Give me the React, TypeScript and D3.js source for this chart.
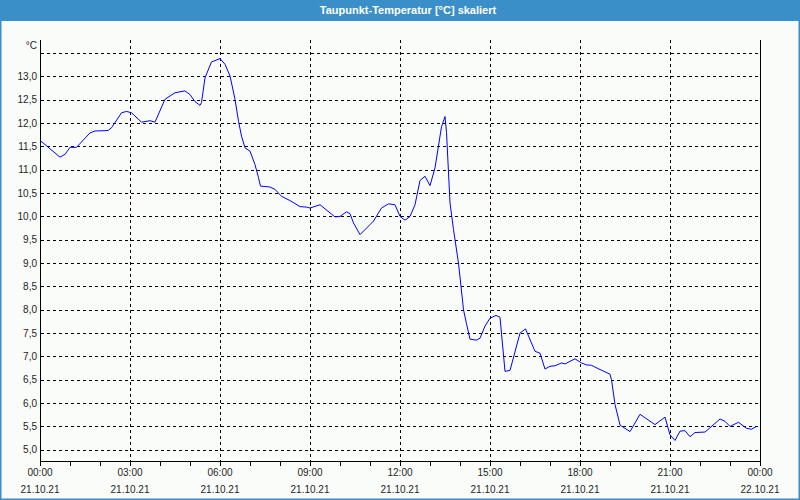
import React from "react";
import * as d3 from "d3";

const TITLE = "Taupunkt-Temperatur [°C] skaliert";
const UNIT = "°C";

const times = [
  "00:00","00:20","00:40","00:50","01:00","01:13","01:40","01:50","02:16","02:23",
  "02:43","02:53","03:03","03:23","03:40","03:50","04:10","04:30","04:50","05:00",
  "05:10","05:20","05:23","05:30","05:43","06:00","06:10","06:20","06:30","06:37",
  "06:43","06:50","07:00","07:10","07:17","07:21","07:40","07:50","08:03","08:20",
  "08:40","08:53","09:00","09:20","09:50","10:00","10:13","10:20","10:27","10:40",
  "11:07","11:23","11:37","11:50","12:00","12:10","12:20","12:30","12:40","12:50",
  "13:00","13:10","13:23","13:30","13:33","13:40","13:47","13:57","14:07","14:13",
  "14:20","14:33","14:40","14:50","15:00","15:12","15:20","15:30","15:40","16:00",
  "16:11","16:30","16:40","16:50","17:00","17:10","17:23","17:30","17:50","18:03",
  "18:13","18:23","18:40","19:00","19:03","19:10","19:20","19:40","20:00","20:30",
  "20:50","21:00","21:10","21:20","21:30","21:40","21:50","22:10","22:40","22:50",
  "23:00","23:17","23:33","23:43","23:53",
];

const dewPoint = [
  11.63,11.45,11.27,11.33,11.48,11.48,11.79,11.83,11.84,11.90,
  12.22,12.25,12.22,12.02,12.05,12.02,12.51,12.65,12.69,12.61,
  12.46,12.38,12.44,12.97,13.31,13.38,13.26,13.01,12.51,12.04,
  11.72,11.47,11.40,11.11,10.83,10.65,10.63,10.58,10.43,10.34,
  10.21,10.20,10.18,10.25,9.99,10.00,10.10,10.06,9.86,9.61,
  9.90,10.18,10.27,10.25,10.00,9.92,10.00,10.25,10.77,10.86,
  10.66,11.04,11.92,12.14,11.80,10.29,9.72,9.00,8.00,7.70,
  7.37,7.35,7.39,7.65,7.82,7.88,7.84,6.68,6.70,7.50,
  7.59,7.11,7.07,6.73,6.79,6.80,6.86,6.84,6.95,6.86,
  6.82,6.81,6.72,6.62,6.50,5.97,5.53,5.39,5.76,5.54,
  5.70,5.32,5.20,5.40,5.41,5.28,5.37,5.38,5.66,5.61,
  5.50,5.59,5.46,5.44,5.50,
];

const yTicks = [5.0, 5.5, 6.0, 6.5, 7.0, 7.5, 8.0, 8.5, 9.0, 9.5, 10.0, 10.5, 11.0, 11.5, 12.0, 12.5, 13.0];
const yGrid = [5.0, 5.5, 6.0, 6.5, 7.0, 7.5, 8.0, 8.5, 9.0, 9.5, 10.0, 10.5, 11.0, 11.5, 12.0, 12.5, 13.0, 13.5];
const xLabelTimes = ["2021-10-21 00:00","2021-10-21 03:00","2021-10-21 06:00","2021-10-21 09:00","2021-10-21 12:00","2021-10-21 15:00","2021-10-21 18:00","2021-10-21 21:00","2021-10-22 00:00"];
const yDomain = [4.76, 13.78];
const xDomain = ["2021-10-21 00:00", "2021-10-22 00:00"];
const DAY = "2021-10-21";

const parse = d3.timeParse("%Y-%m-%d %H:%M");
const fmtTime = d3.timeFormat("%H:%M");
const fmtDate = d3.timeFormat("%d.%m.%y");

export default function App() {
  const W = 800, H = 500;
  const left = 40, right = 760, top = 40, bottom = 461;
  const x = d3.scaleTime().domain(xDomain.map((s) => parse(s) as Date)).range([left, right]);
  const y = d3.scaleLinear().domain(yDomain).range([bottom, top]);

  const data = times.map((t, i) => ({ t: parse(`${DAY} ${t}`) as Date, v: dewPoint[i] }));
  const line = d3.line<{ t: Date; v: number }>().x((d) => x(d.t)).y((d) => y(d.v));

  const hourTicks = x.ticks(d3.timeHour.every(1) as any);
  const labelDates = xLabelTimes.map((s) => parse(s) as Date);
  const vGrid = labelDates.slice(1, -1);

  const font = "'Liberation Sans', Arial, sans-serif";
  const textColor = "#1e1e1e";

  return (
    <svg width={W} height={H} style={{ position: "fixed", left: 0, top: 0, display: "block" }}>
      <rect x={0} y={0} width={W} height={H} fill="#3b8fc8" />
      <rect x={1.5} y={21} width={W - 3} height={H - 22.5} fill="#f9fcf9" />
      <text x={408} y={14} textAnchor="middle" fill="#ffffff" fontFamily={font} fontSize={11} fontWeight="bold">
        {TITLE}
      </text>

      {yGrid.map((v) => (
        <line key={"h" + v} x1={left + 1} x2={right} y1={Math.round(y(v)) + 0.5} y2={Math.round(y(v)) + 0.5}
          stroke="#000" strokeWidth={1} strokeDasharray="3,3" shapeRendering="crispEdges" />
      ))}
      {vGrid.map((d, i) => (
        <line key={"v" + i} x1={Math.round(x(d)) + 0.5} x2={Math.round(x(d)) + 0.5} y1={top} y2={bottom}
          stroke="#000" strokeWidth={1} strokeDasharray="3,3" shapeRendering="crispEdges" />
      ))}

      <line x1={left + 0.5} x2={left + 0.5} y1={top} y2={bottom + 1} stroke="#000" shapeRendering="crispEdges" />
      <line x1={right + 0.5} x2={right + 0.5} y1={top} y2={bottom + 1} stroke="#000" shapeRendering="crispEdges" />
      <line x1={left} x2={right + 1} y1={bottom + 0.5} y2={bottom + 0.5} stroke="#000" shapeRendering="crispEdges" />
      {hourTicks.map((d, i) => (
        <line key={"t" + i} x1={Math.round(x(d)) + 0.5} x2={Math.round(x(d)) + 0.5} y1={bottom} y2={bottom + 5}
          stroke="#000" shapeRendering="crispEdges" />
      ))}

      {yTicks.map((v) => (
        <text key={"yl" + v} x={37} y={y(v) + 3.5} textAnchor="end" fill={textColor} fontFamily={font} fontSize={10}>
          {v.toFixed(1).replace(".", ",")}
        </text>
      ))}
      <text x={37} y={49} textAnchor="end" fill={textColor} fontFamily={font} fontSize={10}>{UNIT}</text>

      {labelDates.map((d, i) => (
        <g key={"xl" + i}>
          <text x={x(d)} y={476} textAnchor="middle" fill={textColor} fontFamily={font} fontSize={10}>{fmtTime(d)}</text>
          <text x={x(d)} y={493} textAnchor="middle" fill={textColor} fontFamily={font} fontSize={10}>{fmtDate(d)}</text>
        </g>
      ))}

      <path d={line(data) || ""} fill="none" stroke="#0000ff" strokeWidth={1} />
    </svg>
  );
}
